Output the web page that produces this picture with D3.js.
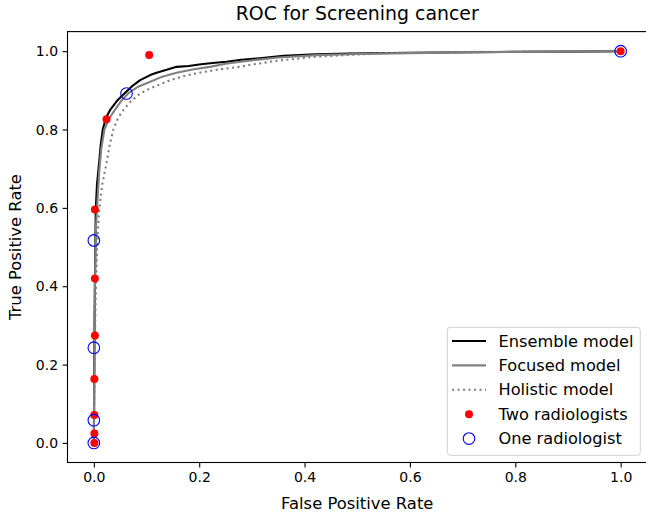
<!DOCTYPE html>
<html>
<head>
<meta charset="utf-8">
<script src="https://cdn.jsdelivr.net/npm/d3@7"></script>
<style>
  body { margin: 0; background: #fff; }
  svg { font-family: "DejaVu Sans", sans-serif; }
</style>
</head>
<body>
<svg id="chart" width="646" height="515"></svg>
<script>
// ROC curves, [false positive rate, true positive rate]
var ensembleCurve = [[0,0],[0.0005,0.1],[0.001,0.25],[0.002,0.4],[0.003,0.52],[0.0036,0.594],[0.006,0.66],[0.010,0.714],[0.013,0.76],[0.017,0.80],[0.023,0.83],[0.031,0.85],[0.045,0.875],[0.058,0.892],[0.072,0.91],[0.088,0.926],[0.107,0.939],[0.119,0.945],[0.14,0.953],[0.157,0.96],[0.18,0.962],[0.2,0.966],[0.225,0.97],[0.252,0.973],[0.28,0.978],[0.315,0.982],[0.36,0.988],[0.42,0.992],[0.486,0.994],[0.6,0.996],[0.77,0.998],[0.9,0.999],[1,1]];
var focusedCurve = [[0,0],[0.001,0.2],[0.002,0.4],[0.004,0.55],[0.007,0.62],[0.01,0.69],[0.014,0.75],[0.02,0.80],[0.03,0.83],[0.04,0.85],[0.052,0.873],[0.065,0.892],[0.085,0.91],[0.107,0.922],[0.13,0.935],[0.157,0.945],[0.19,0.954],[0.22,0.96],[0.25,0.968],[0.29,0.975],[0.35,0.984],[0.423,0.99],[0.5,0.993],[0.6,0.995],[0.7,0.997],[0.8,0.998],[0.9,0.999],[1,1]];
var holisticCurve = [[0,0],[0.001,0.15],[0.003,0.35],[0.006,0.5],[0.010,0.594],[0.016,0.66],[0.024,0.714],[0.03,0.76],[0.037,0.80],[0.046,0.83],[0.056,0.85],[0.07,0.872],[0.088,0.892],[0.107,0.905],[0.125,0.915],[0.145,0.926],[0.17,0.936],[0.2,0.945],[0.24,0.954],[0.277,0.96],[0.296,0.965],[0.35,0.976],[0.423,0.986],[0.55,0.995],[0.7,0.998],[0.85,0.999],[1,1]];

// reader operating points
var twoFpr = [0.001,0.001,0.001,0.001,0.002,0.002,0.002,0.024,0.105,1];
var twoTpr = [0,0.024,0.071,0.163,0.274,0.42,0.596,0.826,0.990,1];
var oneFpr = [0,0,0,0,0.062,1];
var oneTpr = [0,0.058,0.243,0.517,0.892,1];

var ticks = [0,0.2,0.4,0.6,0.8,1.0];
var legendLabels = ["Ensemble model","Focused model","Holistic model","Two radiologists","One radiologist"];

var svg = d3.select("#chart");
var plotLeft = 67.5, plotRight = 647, plotTop = 31.6, plotBottom = 462.5;

var x = d3.scaleLinear().domain([-0.05, 1.05]).range([plotLeft, plotRight]);
var y = d3.scaleLinear().domain([-0.05, 1.05]).range([plotBottom, plotTop]);

var line = d3.line()
    .x(function(d){ return x(d[0]); })
    .y(function(d){ return y(d[1]); });

//axes
var axisX = d3.axisBottom(x).tickValues(ticks).tickFormat(d3.format(".1f")).tickSize(4.9).tickPadding(4.5);
var axisY = d3.axisLeft(y).tickValues(ticks).tickFormat(d3.format(".1f")).tickSize(4.9).tickPadding(4.5);
var gx = svg.append("g").attr("transform", "translate(0," + plotBottom + ")").call(axisX);
var gy = svg.append("g").attr("transform", "translate(" + plotLeft + ",0)").call(axisY);
[gx, gy].forEach(function(g){
    g.select(".domain").remove();
    g.selectAll("line").attr("stroke", "#000").attr("stroke-width", 1.1);
    g.selectAll("text").attr("font-size", 14).attr("fill", "#000")
        .style("font-family", "DejaVu Sans");
});

//spines
svg.append("rect")
    .attr("x", plotLeft).attr("y", plotTop)
    .attr("width", plotRight - plotLeft).attr("height", plotBottom - plotTop)
    .attr("fill", "none").attr("stroke", "#000").attr("stroke-width", 1.1);

//curves
var plotArea = svg.append("g");
var styles = [
    {data: ensembleCurve, color: "#000", dash: null},
    {data: focusedCurve, color: "#808080", dash: null},
    {data: holisticCurve, color: "#808080", dash: "2.1,3.4"}
];
styles.forEach(function(s){
    plotArea.append("path")
        .datum(s.data)
        .attr("d", line)
        .attr("fill", "none")
        .attr("stroke", s.color)
        .attr("stroke-width", 2.1)
        .attr("stroke-dasharray", s.dash)
        .attr("stroke-linejoin", "round");
});

plotArea.selectAll(".two")
    .data(twoFpr)
    .enter()
    .append("circle")
    .attr("class", "two")
    .attr("cx", function(d){ return x(d); })
    .attr("cy", function(d, i){ return y(twoTpr[i]); })
    .attr("r", 4)
    .attr("fill", "red");

plotArea.selectAll(".one")
    .data(oneFpr)
    .enter()
    .append("circle")
    .attr("class", "one")
    .attr("cx", function(d){ return x(d); })
    .attr("cy", function(d, i){ return y(oneTpr[i]); })
    .attr("r", 5.8)
    .attr("fill", "none")
    .attr("stroke", "blue")
    .attr("stroke-width", 1.1);

//title and labels
svg.append("text")
    .attr("x", (plotLeft + plotRight) / 2).attr("y", 20)
    .attr("text-anchor", "middle")
    .attr("font-size", 18.9)
    .text("ROC for Screening cancer");
svg.append("text")
    .attr("x", (plotLeft + plotRight) / 2).attr("y", 509)
    .attr("text-anchor", "middle")
    .attr("font-size", 16.4)
    .text("False Positive Rate");
svg.append("text")
    .attr("transform", "translate(21," + ((plotTop + plotBottom) / 2) + ") rotate(-90)")
    .attr("text-anchor", "middle")
    .attr("font-size", 16.4)
    .text("True Positive Rate");

//legend
var legend = svg.append("g");
legend.append("rect")
    .attr("x", 447.3).attr("y", 327.3)
    .attr("width", 193).attr("height", 128)
    .attr("rx", 3)
    .attr("fill", "#fff").attr("fill-opacity", 0.8)
    .attr("stroke", "#d0d0d0").attr("stroke-width", 1);

legendLabels.forEach(function(label, i){
    var ly = 341 + i * 24.4;
    if (i < 3) {
        legend.append("line")
            .attr("x1", 452).attr("x2", 486)
            .attr("y1", ly).attr("y2", ly)
            .attr("stroke", styles[i].color)
            .attr("stroke-width", 2.1)
            .attr("stroke-dasharray", styles[i].dash);
    } else if (i == 3) {
        legend.append("circle").attr("cx", 469).attr("cy", ly).attr("r", 4).attr("fill", "red");
    } else {
        legend.append("circle").attr("cx", 469).attr("cy", ly).attr("r", 5.8)
            .attr("fill", "none").attr("stroke", "blue").attr("stroke-width", 1.1);
    }
    legend.append("text")
        .attr("x", 498.5).attr("y", ly)
        .attr("dy", "0.35em")
        .attr("font-size", 16.2)
        .text(label);
});
</script>
</body>
</html>
